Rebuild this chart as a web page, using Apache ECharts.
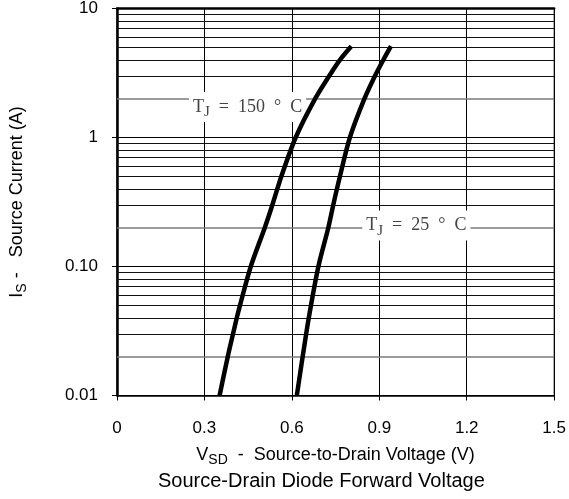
<!DOCTYPE html>
<html>
<head>
<meta charset="utf-8">
<script src="https://cdn.jsdelivr.net/npm/echarts@6/dist/echarts.min.js"></script>
<style>
html,body{margin:0;padding:0;background:#fff;}
#chart{width:569px;height:499px;}
</style>
</head>
<body>
<div id="chart"></div>
<script>
// ---- data ----
var xTicks = [0, 0.3, 0.6, 0.9, 1.2, 1.5];
var xTickLabels = ['0', '0.3', '0.6', '0.9', '1.2', '1.5'];
var yTicks = [0.01, 0.1, 1, 10];
var yTickLabels = ['0.01', '0.10', '1', '10'];
var yMinorGrid = [0.02, 0.03, 0.04, 0.05, 0.06, 0.07, 0.08, 0.09,
                  0.2, 0.3, 0.4, 0.5, 0.6, 0.7, 0.8, 0.9,
                  2, 3, 4, 5, 6, 7, 8, 9];
var yGrayGrid = [0.02, 0.2, 2];

var t150V = [0.352, 0.380, 0.398, 0.411, 0.422, 0.459, 0.507, 0.533, 0.564, 0.613, 0.680, 0.728, 0.765, 0.804];
var t150I = [0.01, 0.02, 0.03, 0.04, 0.05, 0.1, 0.2, 0.3, 0.5, 1, 2, 3, 4, 5.1];
var t25V = [0.617, 0.637, 0.658, 0.691, 0.725, 0.742, 0.765, 0.799, 0.849, 0.885, 0.914, 0.940];
var t25I = [0.01, 0.02, 0.04, 0.1, 0.2, 0.3, 0.5, 1, 2, 3, 4, 5.1];

var curveLabels = ['150', '25'];
var curveLabelPos = [[0.448, 1.727], [1.027, 0.208]];

function zip(a, b) { return a.map(function (v, i) { return [v, b[i]]; }); }

var labelFmt = function (p) { return '{t|T}{s|J}{t|  =  ' + curveLabels[p.dataIndex] + '  °  C}'; };

var chart = echarts.init(document.getElementById('chart'), null, {renderer: 'canvas'});
var sans = 'Liberation Sans, Arial, sans-serif';
var serif = 'Liberation Serif, Times New Roman, serif';

var option = {
  animation: false,
  backgroundColor: '#fff',
  title: {
    text: 'Source-Drain Diode Forward Voltage',
    left: 153, bottom: 3,
    textStyle: {fontFamily: sans, fontSize: 20, fontWeight: 'normal', color: '#000'}
  },
  grid: {left: 115, top: 7, width: 443, height: 388.5, show: true, borderColor: '#000', borderWidth: 1, containLabel: false},
  xAxis: [{
    type: 'value', min: 0, max: 1.5, interval: 0.3,
    name: '{m|V}{s|SD}{m|  -  Source-to-Drain Voltage (V)}',
    nameLocation: 'middle', nameGap: 48,
    nameTextStyle: {
      rich: {
        m: {fontFamily: sans, fontSize: 18, color: '#000', lineHeight: 24, verticalAlign: 'middle'},
        s: {fontFamily: sans, fontSize: 14, color: '#000', lineHeight: 14, verticalAlign: 'bottom'}
      }
    },
    axisLine: {show: true, onZero: false, lineStyle: {color: '#000', width: 1.5}},
    axisTick: {show: true, inside: false, length: 5, lineStyle: {color: '#000'}},
    axisLabel: {
      margin: 24, fontFamily: sans, fontSize: 17, color: '#000',
      formatter: function (v) { var i = xTicks.findIndex(function (t) { return Math.abs(t - v) < 1e-6; }); return i >= 0 ? xTickLabels[i] : ''; }
    },
    splitLine: {show: true, lineStyle: {color: '#000', width: 1}}
  }, {
    type: 'value', min: 0, max: 1.5, interval: 0.3, position: 'top',
    axisLine: {show: true, lineStyle: {color: '#000', width: 2.5}},
    axisTick: {show: false}, axisLabel: {show: false}, splitLine: {show: false}
  }],
  yAxis: {
    type: 'log', logBase: 10, min: 0.01, max: 10,
    name: '{m|I}{s|S}{m| -   Source Current (A)}',
    nameLocation: 'middle', nameGap: 88, nameRotate: 90,
    nameTextStyle: {
      rich: {
        m: {fontFamily: sans, fontSize: 18, color: '#000', lineHeight: 24, verticalAlign: 'middle'},
        s: {fontFamily: sans, fontSize: 14, color: '#000', lineHeight: 14, verticalAlign: 'bottom'}
      }
    },
    axisLine: {show: true, lineStyle: {color: '#000', width: 2.5}},
    axisTick: {show: true, inside: false, length: 5, lineStyle: {color: '#000'}},
    axisLabel: {
      margin: 19, fontFamily: sans, fontSize: 17, color: '#000',
      formatter: function (v) { var i = yTicks.findIndex(function (t) { return Math.abs(Math.log10(t) - Math.log10(v)) < 1e-6; }); return i >= 0 ? yTickLabels[i] : ''; }
    },
    splitLine: {show: true, lineStyle: {color: '#000', width: 1}},
    minorTick: {show: false}, minorSplitLine: {show: false}
  },
  series: [
    {
      type: 'line', data: [], silent: true, z: 1,
      markLine: {
        silent: true, symbol: 'none', animation: false, z: 1,
        label: {show: false},
        data: yMinorGrid.map(function (v) {
          var gray = yGrayGrid.indexOf(v) >= 0;
          return {yAxis: v, lineStyle: {color: gray ? '#7a7a7a' : '#111', width: gray ? 1.6 : 1, type: 'solid'}};
        })
      }
    },
    {
      name: 'TJ = 150 °C', type: 'line', data: zip(t150V, t150I), smooth: 0.3,
      showSymbol: false, lineStyle: {color: '#000', width: 4.5}, z: 8
    },
    {
      name: 'TJ = 25 °C', type: 'line', data: zip(t25V, t25I), smooth: 0.3,
      showSymbol: false, lineStyle: {color: '#000', width: 4.5}, z: 8
    },
    {
      type: 'scatter', data: curveLabelPos, symbolSize: 0, z: 6,
      itemStyle: {opacity: 1},
      label: {
        show: true, position: 'inside', formatter: labelFmt,
        backgroundColor: '#fff', padding: [2, 4, 2, 4],
        rich: {
          t: {fontFamily: serif, fontSize: 18, color: '#444', lineHeight: 26, verticalAlign: 'middle'},
          s: {fontFamily: serif, fontSize: 15, color: '#444', lineHeight: 12, verticalAlign: 'bottom'}
        }
      }
    }
  ]
};
chart.setOption(option);
</script>
</body>
</html>
